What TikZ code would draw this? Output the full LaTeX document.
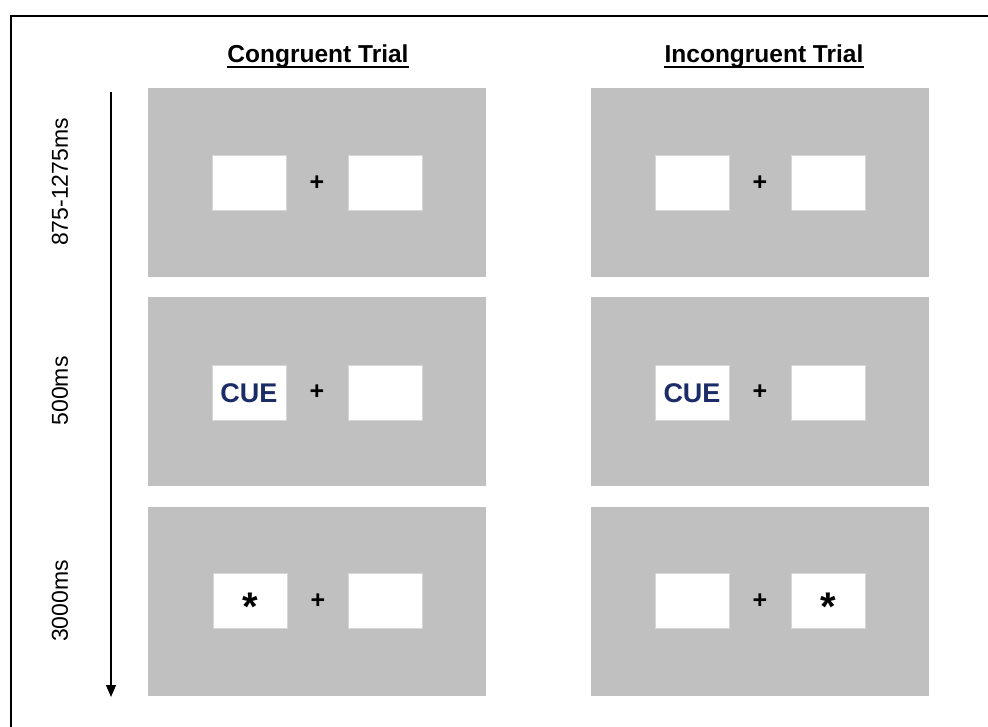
\documentclass[tikz,border=0pt]{standalone}
\usepackage{fontspec}
\setmainfont{Liberation Sans}
\usetikzlibrary{arrows.meta}
\definecolor{panelgrey}{HTML}{C0C0C0}
\definecolor{boxedge}{HTML}{D6D6D6}
\definecolor{cuenavy}{HTML}{1C2C66}
\begin{document}
\begin{tikzpicture}[x=1pt,y=-1pt,
  panel/.style={rectangle,fill=panelgrey,draw=none,minimum width=338pt,minimum height=189pt,inner sep=0pt},
  wbox/.style={rectangle,fill=white,draw=boxedge,line width=1pt,minimum width=74pt,minimum height=55pt,inner sep=0pt},
  plussign/.style={font=\fontsize{25}{25}\selectfont\bfseries,inner sep=0pt},
  titletext/.style={font=\fontsize{24.5}{26}\selectfont\bfseries,inner sep=0pt,anchor=base},
  timelabel/.style={font=\fontsize{23}{24}\selectfont,rotate=90,inner sep=0pt},
  cuetext/.style={font=\fontsize{27}{28}\selectfont\bfseries,text=cuenavy},
  startext/.style={font=\fontsize{40}{40}\selectfont\bfseries}
]
\useasboundingbox (0,0) rectangle (988,727);
% outer frame (left and top edges)
\coordinate (fa) at (11,727);
\coordinate (fb) at (11,16);
\coordinate (fc) at (988,16);
\draw[line width=1.2pt] (fa) -- (fb) -- (fc);

% titles
\node[titletext] (t1) at (318,63) {Congruent Trial};
\node[titletext] (t2) at (764,63) {Incongruent Trial};
\draw[line width=1.5pt] ([yshift=-4pt]t1.base west) -- ([yshift=-4pt]t1.base east);
\draw[line width=1.5pt] ([yshift=-4pt]t2.base west) -- ([yshift=-4pt]t2.base east);

% time arrow
\coordinate (arrtop) at (111,92);
\coordinate (arrbot) at (111,697);
\draw[line width=1.2pt,-{Triangle[length=12pt,width=10pt]}] (arrtop) -- (arrbot);

% time labels
\node[timelabel] (l1) at (60,182) {875-1275ms};
\node[timelabel] (l2) at (60,391) {500ms};
\node[timelabel] (l3) at (60,601) {3000ms};

% panels
\node[panel] (p11) at (317,182.5) {};
\node[panel] (p12) at (760,182.5) {};
\node[panel] (p21) at (317,391.5) {};
\node[panel] (p22) at (760,391.5) {};
\node[panel] (p31) at (317,601) {};
\node[panel] (p32) at (760,601) {};

% row 1
\node[wbox] (b11l) at (249,183.5) {};
\node[wbox] (b11r) at (385,183.5) {};
\node[plussign] (x11) at (317,183) {+};
\node[wbox] (b12l) at (692,183.5) {};
\node[wbox] (b12r) at (828,183.5) {};
\node[plussign] (x12) at (760,183) {+};

% row 2
\node[wbox] (b21l) at (249,392.5) {};
\node[cuetext] (c21) at (249,393) {CUE};
\node[wbox] (b21r) at (385,392.5) {};
\node[plussign] (x21) at (317,392) {+};
\node[wbox] (b22l) at (692,392.5) {};
\node[cuetext] (c22) at (692,393) {CUE};
\node[wbox] (b22r) at (828,392.5) {};
\node[plussign] (x22) at (760,392) {+};

% row 3
\node[wbox] (b31l) at (250,601) {};
\node[startext] (s31) at (250,607) {*};
\node[wbox] (b31r) at (385,601) {};
\node[plussign] (x31) at (318,601) {+};
\node[wbox] (b32l) at (692,601) {};
\node[wbox] (b32r) at (828,601) {};
\node[startext] (s32) at (828,607) {*};
\node[plussign] (x32) at (760,601) {+};
\end{tikzpicture}
\end{document}
